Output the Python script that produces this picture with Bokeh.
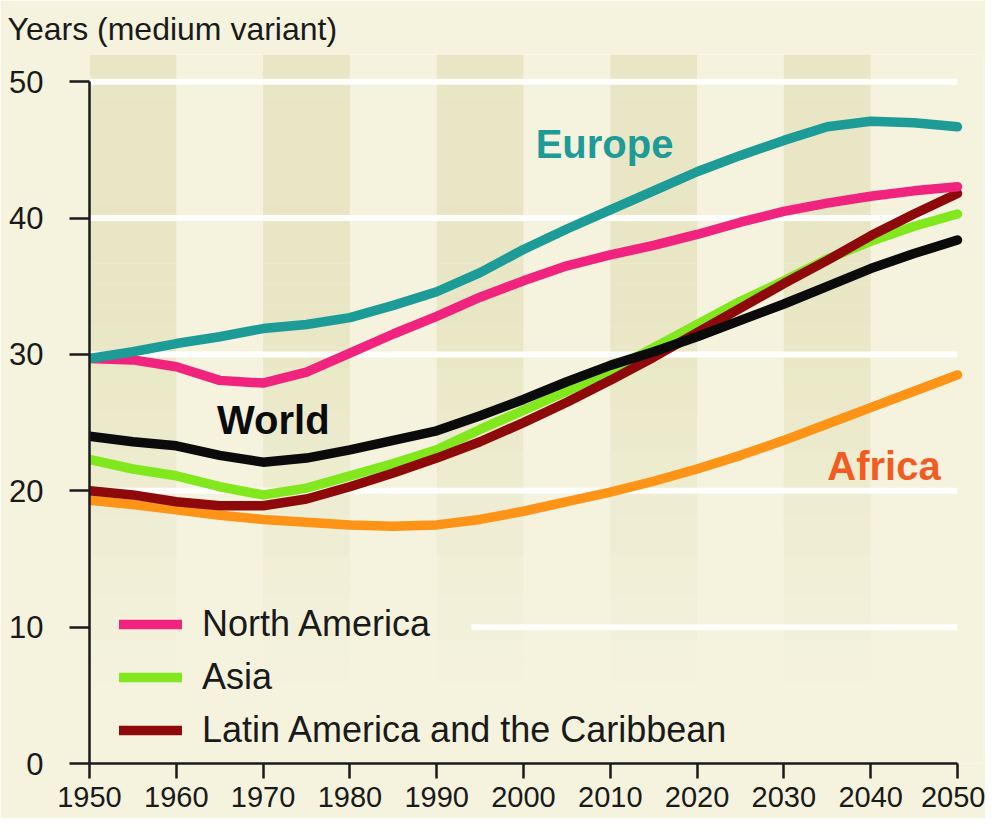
from bokeh.plotting import figure
from bokeh.models import Range1d, Label, Legend, LegendItem, ColumnDataSource
from bokeh.embed import file_html
from bokeh.resources import INLINE

# ---------------- data ----------------
years = [1950, 1955, 1960, 1965, 1970, 1975, 1980, 1985, 1990, 1995, 2000,
         2005, 2010, 2015, 2020, 2025, 2030, 2035, 2040, 2045, 2050]

europe = [29.7, 30.2, 30.8, 31.3, 31.9, 32.2, 32.7, 33.6, 34.6, 36.0, 37.7,
          39.2, 40.6, 42.0, 43.4, 44.6, 45.7, 46.7, 47.1, 47.0, 46.7]
north_america = [29.7, 29.6, 29.1, 28.1, 27.9, 28.7, 30.1, 31.5, 32.8, 34.2, 35.4,
                 36.5, 37.3, 38.0, 38.8, 39.7, 40.5, 41.1, 41.6, 42.0, 42.3]
asia = [22.3, 21.6, 21.1, 20.3, 19.7, 20.2, 21.1, 22.0, 23.0, 24.5, 25.9,
        27.3, 28.8, 30.5, 32.2, 33.9, 35.4, 37.0, 38.3, 39.4, 40.3]
latin_america = [20.0, 19.7, 19.2, 18.9, 18.9, 19.4, 20.3, 21.3, 22.4, 23.6, 25.0,
                 26.5, 28.1, 29.8, 31.6, 33.4, 35.2, 36.9, 38.7, 40.3, 41.8]
world = [24.0, 23.6, 23.3, 22.6, 22.1, 22.4, 23.0, 23.7, 24.4, 25.5, 26.7,
         28.0, 29.2, 30.2, 31.3, 32.5, 33.7, 35.0, 36.3, 37.4, 38.4]
africa = [19.3, 19.0, 18.6, 18.2, 17.9, 17.7, 17.5, 17.4, 17.5, 17.9, 18.5,
          19.2, 19.9, 20.7, 21.6, 22.6, 23.7, 24.9, 26.1, 27.3, 28.5]

x_ticks = [1950, 1960, 1970, 1980, 1990, 2000, 2010, 2020, 2030, 2040, 2050]
y_ticks = [0, 10, 20, 30, 40, 50]
grid_values = [10, 20, 30, 40, 50]
grid_starts = [1994, 1950, 1950, 1950, 1950]
band_starts = [1950, 1970, 1990, 2010, 2030]

title_text = "Years (medium variant)"
legend_labels = ["North America", "Asia", "Latin America and the Caribbean"]

# ---------------- styles ----------------
BG = "#f5f3de"
BAND = "#e8e6c5"
FONT = "Liberation Sans"
C_EUROPE = "#1d9b97"
C_NA = "#f0247f"
C_ASIA = "#82e81e"
C_LATAM = "#8e0909"
C_WORLD = "#0b0b0b"
C_AFRICA = "#fd9417"
C_AFRICA_LBL = "#f25c22"

p = figure(width=985, height=818, output_backend="svg", toolbar_location=None,
           x_range=Range1d(1950, 2053), y_range=Range1d(0, 52),
           min_border_left=89, min_border_right=2, min_border_top=53, min_border_bottom=55)
p.background_fill_color = BG
p.border_fill_color = BG
p.outline_line_color = None
p.xgrid.visible = False
p.ygrid.visible = False

p.title.text = title_text
p.title.text_font = FONT
p.title.text_font_style = "normal"
p.title.text_font_size = "32px"
p.title.text_color = "#1a1a1a"
p.title.align = "left"
p.title.offset = -82
p.title.standoff = 16

# vertical shaded bands, fading downwards
n_slices = 30
y_lo, y_full, y_hi = 6.0, 32.0, 52.0
lefts, rights, bottoms, tops, alphas = [], [], [], [], []
for s in band_starts:
    for k in range(n_slices):
        b = y_lo + (y_hi - y_lo) * k / n_slices
        t = y_lo + (y_hi - y_lo) * (k + 1) / n_slices
        mid = (b + t) / 2
        a = min(1.0, max(0.0, (mid - y_lo) / (y_full - y_lo)))
        lefts.append(s); rights.append(s + 10)
        bottoms.append(b); tops.append(t); alphas.append(a)
band_src = ColumnDataSource(dict(left=lefts, right=rights, bottom=bottoms, top=tops, alpha=alphas))
p.quad(left="left", right="right", bottom="bottom", top="top", source=band_src,
       fill_color=BAND, fill_alpha="alpha", line_color=None)

# white horizontal grid lines
p.segment(x0=grid_starts, x1=[2050] * len(grid_values), y0=grid_values, y1=grid_values,
          line_color="white", line_width=6, line_alpha=0.95)

LW = 9.5
kw = dict(line_width=LW, line_cap="round", line_join="round")
r_africa = p.line(years, africa, line_color=C_AFRICA, **kw)
r_asia = p.line(years, asia, line_color=C_ASIA, **kw)
r_latam = p.line(years, latin_america, line_color=C_LATAM, **kw)
r_na = p.line(years, north_america, line_color=C_NA, **kw)
r_europe = p.line(years, europe, line_color=C_EUROPE, **kw)
r_world = p.line(years, world, line_color=C_WORLD, **kw)

# axes
for ax in (p.xaxis, p.yaxis):
    ax.axis_line_width = 2.5
    ax.axis_line_color = "#1a1a1a"
    ax.major_tick_line_width = 2.5
    ax.major_tick_line_color = "#1a1a1a"
    ax.minor_tick_line_color = None
    ax.major_tick_in = 0
    ax.major_label_text_font = FONT
    ax.major_label_text_color = "#1a1a1a"
p.xaxis.bounds = (1950, 2050)
p.yaxis.bounds = (0, 50)
p.xaxis.ticker = x_ticks
p.yaxis.ticker = y_ticks
p.xaxis.major_tick_out = 15
p.yaxis.major_tick_out = 20
p.xaxis.major_label_text_font_size = "29px"
p.yaxis.major_label_text_font_size = "31px"
p.xaxis.major_label_standoff = 8
p.yaxis.major_label_standoff = 26

# direct labels
p.add_layout(Label(x=2001.4, y=45.4, text="Europe", text_font=FONT, text_font_style="bold",
                   text_font_size="40px", text_color=C_EUROPE, text_baseline="alphabetic"))
p.add_layout(Label(x=1964.7, y=25.2, text="World", text_font=FONT, text_font_style="bold",
                   text_font_size="40px", text_color=C_WORLD, text_baseline="alphabetic"))
p.add_layout(Label(x=2035.0, y=21.8, text="Africa", text_font=FONT, text_font_style="bold",
                   text_font_size="40px", text_color=C_AFRICA_LBL, text_baseline="alphabetic"))

legend = Legend(items=[LegendItem(label=legend_labels[0], renderers=[r_na]),
                       LegendItem(label=legend_labels[1], renderers=[r_asia]),
                       LegendItem(label=legend_labels[2], renderers=[r_latam])],
                location=(20, 0))
legend.background_fill_alpha = 0
legend.border_line_alpha = 0
legend.label_text_font = FONT
legend.label_text_font_size = "36px"
legend.label_text_color = "#1a1a1a"
legend.glyph_width = 63
legend.glyph_height = 46
legend.label_height = 46
legend.label_standoff = 20
legend.spacing = 7
legend.padding = 10
legend.margin = 0
p.add_layout(legend)

open("out.html", "w").write(file_html(p, INLINE))
